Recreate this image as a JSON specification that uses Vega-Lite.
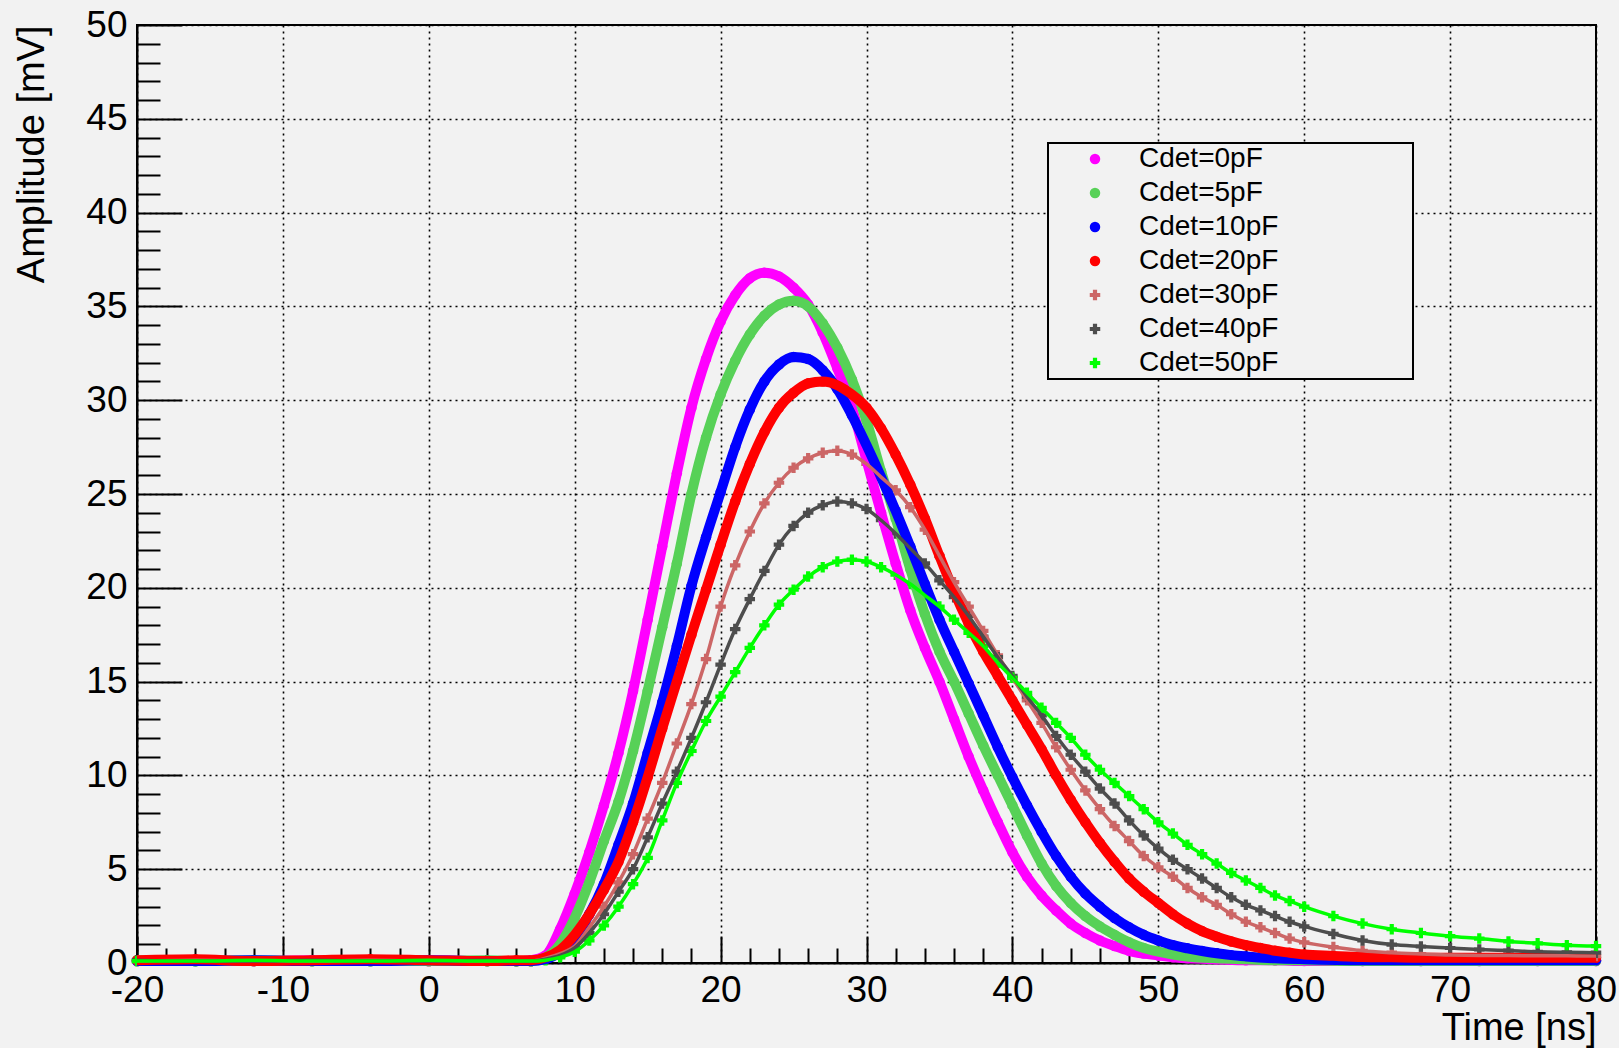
{
  "$schema": "https://vega.github.io/schema/vega-lite/v6.json",
  "width": 1459,
  "height": 938,
  "autosize": {"type": "none"},
  "padding": {"left": 137, "top": 25, "right": 23, "bottom": 85},
  "background": "#f2f2f2",
  "config": {
    "view": {"stroke": "black", "strokeWidth": 2},
    "legend": {"strokeWidth": 2}
  },
  "data": {"values": [
    {"s":"Cdet=0pF","t":-20,"a":0.1},{"s":"Cdet=0pF","t":-16,"a":0.15},{"s":"Cdet=0pF","t":-12,"a":0.1},{"s":"Cdet=0pF","t":-8,"a":0.15},{"s":"Cdet=0pF","t":-4,"a":0.1},{"s":"Cdet=0pF","t":0,"a":0.15},{"s":"Cdet=0pF","t":4,"a":0.1},{"s":"Cdet=0pF","t":6,"a":0.1},
    {"s":"Cdet=0pF","t":7,"a":0.15},{"s":"Cdet=0pF","t":8,"a":0.4},{"s":"Cdet=0pF","t":9,"a":1.8},{"s":"Cdet=0pF","t":10,"a":3.7},{"s":"Cdet=0pF","t":11,"a":5.9},{"s":"Cdet=0pF","t":12,"a":8.4},{"s":"Cdet=0pF","t":13,"a":11.2},{"s":"Cdet=0pF","t":14,"a":14.5},{"s":"Cdet=0pF","t":15,"a":18.3},{"s":"Cdet=0pF","t":16,"a":22.2},{"s":"Cdet=0pF","t":17,"a":26.1},{"s":"Cdet=0pF","t":18,"a":29.6},{"s":"Cdet=0pF","t":19,"a":32.2},{"s":"Cdet=0pF","t":20,"a":34.2},{"s":"Cdet=0pF","t":21,"a":35.6},{"s":"Cdet=0pF","t":22,"a":36.5},{"s":"Cdet=0pF","t":23,"a":36.8},{"s":"Cdet=0pF","t":24,"a":36.6},{"s":"Cdet=0pF","t":25,"a":36.0},{"s":"Cdet=0pF","t":26,"a":35.1},{"s":"Cdet=0pF","t":27,"a":33.6},{"s":"Cdet=0pF","t":28,"a":31.7},{"s":"Cdet=0pF","t":29,"a":29.6},{"s":"Cdet=0pF","t":30,"a":26.8},{"s":"Cdet=0pF","t":31,"a":24.0},{"s":"Cdet=0pF","t":32,"a":21.3},{"s":"Cdet=0pF","t":33,"a":18.8},{"s":"Cdet=0pF","t":34,"a":16.8},{"s":"Cdet=0pF","t":35,"a":15.0},{"s":"Cdet=0pF","t":36,"a":13.0},{"s":"Cdet=0pF","t":37,"a":11.0},{"s":"Cdet=0pF","t":38,"a":9.2},{"s":"Cdet=0pF","t":39,"a":7.5},{"s":"Cdet=0pF","t":40,"a":5.9},{"s":"Cdet=0pF","t":41,"a":4.6},{"s":"Cdet=0pF","t":42,"a":3.6},{"s":"Cdet=0pF","t":43,"a":2.8},{"s":"Cdet=0pF","t":44,"a":2.1},{"s":"Cdet=0pF","t":45,"a":1.6},{"s":"Cdet=0pF","t":46,"a":1.2},{"s":"Cdet=0pF","t":47,"a":0.9},{"s":"Cdet=0pF","t":48,"a":0.65},{"s":"Cdet=0pF","t":49,"a":0.5},{"s":"Cdet=0pF","t":50,"a":0.4},{"s":"Cdet=0pF","t":51,"a":0.3},{"s":"Cdet=0pF","t":52,"a":0.25},{"s":"Cdet=0pF","t":54,"a":0.2},{"s":"Cdet=0pF","t":56,"a":0.15},{"s":"Cdet=0pF","t":58,"a":0.15},{"s":"Cdet=0pF","t":60,"a":0.1},{"s":"Cdet=0pF","t":64,"a":0.1},{"s":"Cdet=0pF","t":68,"a":0.1},{"s":"Cdet=0pF","t":72,"a":0.1},{"s":"Cdet=0pF","t":76,"a":0.1},{"s":"Cdet=0pF","t":80,"a":0.1},

    {"s":"Cdet=5pF","t":-20,"a":0.15},{"s":"Cdet=5pF","t":-16,"a":0.1},{"s":"Cdet=5pF","t":-12,"a":0.15},{"s":"Cdet=5pF","t":-8,"a":0.1},{"s":"Cdet=5pF","t":-4,"a":0.15},{"s":"Cdet=5pF","t":0,"a":0.1},{"s":"Cdet=5pF","t":4,"a":0.15},{"s":"Cdet=5pF","t":6,"a":0.1},
    {"s":"Cdet=5pF","t":7,"a":0.1},{"s":"Cdet=5pF","t":8,"a":0.3},{"s":"Cdet=5pF","t":9,"a":1.0},{"s":"Cdet=5pF","t":10,"a":2.4},{"s":"Cdet=5pF","t":11,"a":4.3},{"s":"Cdet=5pF","t":12,"a":6.5},{"s":"Cdet=5pF","t":13,"a":8.6},{"s":"Cdet=5pF","t":14,"a":11.3},{"s":"Cdet=5pF","t":15,"a":14.5},{"s":"Cdet=5pF","t":16,"a":17.9},{"s":"Cdet=5pF","t":17,"a":21.3},{"s":"Cdet=5pF","t":18,"a":25.0},{"s":"Cdet=5pF","t":19,"a":28.0},{"s":"Cdet=5pF","t":20,"a":30.3},{"s":"Cdet=5pF","t":21,"a":32.1},{"s":"Cdet=5pF","t":22,"a":33.5},{"s":"Cdet=5pF","t":23,"a":34.5},{"s":"Cdet=5pF","t":24,"a":35.1},{"s":"Cdet=5pF","t":25,"a":35.3},{"s":"Cdet=5pF","t":26,"a":35.0},{"s":"Cdet=5pF","t":27,"a":34.1},{"s":"Cdet=5pF","t":28,"a":32.8},{"s":"Cdet=5pF","t":29,"a":31.1},{"s":"Cdet=5pF","t":30,"a":28.9},{"s":"Cdet=5pF","t":31,"a":26.2},{"s":"Cdet=5pF","t":32,"a":23.7},{"s":"Cdet=5pF","t":33,"a":21.0},{"s":"Cdet=5pF","t":34,"a":18.6},{"s":"Cdet=5pF","t":35,"a":16.6},{"s":"Cdet=5pF","t":36,"a":15.0},{"s":"Cdet=5pF","t":37,"a":13.3},{"s":"Cdet=5pF","t":38,"a":11.6},{"s":"Cdet=5pF","t":39,"a":10.0},{"s":"Cdet=5pF","t":40,"a":8.4},{"s":"Cdet=5pF","t":41,"a":6.8},{"s":"Cdet=5pF","t":42,"a":5.3},{"s":"Cdet=5pF","t":43,"a":4.1},{"s":"Cdet=5pF","t":44,"a":3.2},{"s":"Cdet=5pF","t":45,"a":2.5},{"s":"Cdet=5pF","t":46,"a":1.95},{"s":"Cdet=5pF","t":47,"a":1.5},{"s":"Cdet=5pF","t":48,"a":1.1},{"s":"Cdet=5pF","t":49,"a":0.8},{"s":"Cdet=5pF","t":50,"a":0.6},{"s":"Cdet=5pF","t":51,"a":0.45},{"s":"Cdet=5pF","t":52,"a":0.35},{"s":"Cdet=5pF","t":54,"a":0.25},{"s":"Cdet=5pF","t":56,"a":0.2},{"s":"Cdet=5pF","t":58,"a":0.15},{"s":"Cdet=5pF","t":60,"a":0.15},{"s":"Cdet=5pF","t":64,"a":0.1},{"s":"Cdet=5pF","t":68,"a":0.1},{"s":"Cdet=5pF","t":72,"a":0.1},{"s":"Cdet=5pF","t":76,"a":0.1},{"s":"Cdet=5pF","t":80,"a":0.1},

    {"s":"Cdet=10pF","t":-20,"a":0.1},{"s":"Cdet=10pF","t":-16,"a":0.1},{"s":"Cdet=10pF","t":-12,"a":0.15},{"s":"Cdet=10pF","t":-8,"a":0.1},{"s":"Cdet=10pF","t":-4,"a":0.1},{"s":"Cdet=10pF","t":0,"a":0.15},{"s":"Cdet=10pF","t":4,"a":0.1},{"s":"Cdet=10pF","t":6,"a":0.1},
    {"s":"Cdet=10pF","t":7,"a":0.1},{"s":"Cdet=10pF","t":8,"a":0.2},{"s":"Cdet=10pF","t":9,"a":0.6},{"s":"Cdet=10pF","t":10,"a":1.4},{"s":"Cdet=10pF","t":11,"a":2.6},{"s":"Cdet=10pF","t":12,"a":4.2},{"s":"Cdet=10pF","t":13,"a":6.3},{"s":"Cdet=10pF","t":14,"a":8.5},{"s":"Cdet=10pF","t":15,"a":11.2},{"s":"Cdet=10pF","t":16,"a":13.9},{"s":"Cdet=10pF","t":17,"a":16.9},{"s":"Cdet=10pF","t":18,"a":20.1},{"s":"Cdet=10pF","t":19,"a":22.7},{"s":"Cdet=10pF","t":20,"a":25.1},{"s":"Cdet=10pF","t":21,"a":27.5},{"s":"Cdet=10pF","t":22,"a":29.5},{"s":"Cdet=10pF","t":23,"a":31.0},{"s":"Cdet=10pF","t":24,"a":31.9},{"s":"Cdet=10pF","t":25,"a":32.3},{"s":"Cdet=10pF","t":26,"a":32.2},{"s":"Cdet=10pF","t":27,"a":31.6},{"s":"Cdet=10pF","t":28,"a":30.6},{"s":"Cdet=10pF","t":29,"a":29.2},{"s":"Cdet=10pF","t":30,"a":27.6},{"s":"Cdet=10pF","t":31,"a":25.9},{"s":"Cdet=10pF","t":32,"a":24.1},{"s":"Cdet=10pF","t":33,"a":22.2},{"s":"Cdet=10pF","t":34,"a":20.2},{"s":"Cdet=10pF","t":35,"a":18.3},{"s":"Cdet=10pF","t":36,"a":16.6},{"s":"Cdet=10pF","t":37,"a":14.9},{"s":"Cdet=10pF","t":38,"a":13.2},{"s":"Cdet=10pF","t":39,"a":11.5},{"s":"Cdet=10pF","t":40,"a":9.9},{"s":"Cdet=10pF","t":41,"a":8.4},{"s":"Cdet=10pF","t":42,"a":7.0},{"s":"Cdet=10pF","t":43,"a":5.7},{"s":"Cdet=10pF","t":44,"a":4.6},{"s":"Cdet=10pF","t":45,"a":3.7},{"s":"Cdet=10pF","t":46,"a":3.0},{"s":"Cdet=10pF","t":47,"a":2.4},{"s":"Cdet=10pF","t":48,"a":1.9},{"s":"Cdet=10pF","t":49,"a":1.5},{"s":"Cdet=10pF","t":50,"a":1.2},{"s":"Cdet=10pF","t":51,"a":0.95},{"s":"Cdet=10pF","t":52,"a":0.78},{"s":"Cdet=10pF","t":53,"a":0.64},{"s":"Cdet=10pF","t":54,"a":0.52},{"s":"Cdet=10pF","t":55,"a":0.42},{"s":"Cdet=10pF","t":56,"a":0.35},{"s":"Cdet=10pF","t":58,"a":0.25},{"s":"Cdet=10pF","t":60,"a":0.2},{"s":"Cdet=10pF","t":64,"a":0.15},{"s":"Cdet=10pF","t":68,"a":0.15},{"s":"Cdet=10pF","t":72,"a":0.15},{"s":"Cdet=10pF","t":76,"a":0.15},{"s":"Cdet=10pF","t":80,"a":0.15},

    {"s":"Cdet=20pF","t":-20,"a":0.15},{"s":"Cdet=20pF","t":-16,"a":0.2},{"s":"Cdet=20pF","t":-12,"a":0.1},{"s":"Cdet=20pF","t":-8,"a":0.15},{"s":"Cdet=20pF","t":-4,"a":0.2},{"s":"Cdet=20pF","t":0,"a":0.15},{"s":"Cdet=20pF","t":4,"a":0.1},{"s":"Cdet=20pF","t":6,"a":0.15},
    {"s":"Cdet=20pF","t":7,"a":0.15},{"s":"Cdet=20pF","t":8,"a":0.3},{"s":"Cdet=20pF","t":9,"a":0.7},{"s":"Cdet=20pF","t":10,"a":1.5},{"s":"Cdet=20pF","t":11,"a":2.6},{"s":"Cdet=20pF","t":12,"a":3.9},{"s":"Cdet=20pF","t":13,"a":5.4},{"s":"Cdet=20pF","t":14,"a":7.5},{"s":"Cdet=20pF","t":15,"a":9.9},{"s":"Cdet=20pF","t":16,"a":12.5},{"s":"Cdet=20pF","t":17,"a":15.0},{"s":"Cdet=20pF","t":18,"a":17.5},{"s":"Cdet=20pF","t":19,"a":19.9},{"s":"Cdet=20pF","t":20,"a":22.3},{"s":"Cdet=20pF","t":21,"a":24.6},{"s":"Cdet=20pF","t":22,"a":26.6},{"s":"Cdet=20pF","t":23,"a":28.3},{"s":"Cdet=20pF","t":24,"a":29.6},{"s":"Cdet=20pF","t":25,"a":30.4},{"s":"Cdet=20pF","t":26,"a":30.9},{"s":"Cdet=20pF","t":27,"a":31.0},{"s":"Cdet=20pF","t":28,"a":30.8},{"s":"Cdet=20pF","t":29,"a":30.3},{"s":"Cdet=20pF","t":30,"a":29.6},{"s":"Cdet=20pF","t":31,"a":28.5},{"s":"Cdet=20pF","t":32,"a":27.1},{"s":"Cdet=20pF","t":33,"a":25.5},{"s":"Cdet=20pF","t":34,"a":23.7},{"s":"Cdet=20pF","t":35,"a":21.7},{"s":"Cdet=20pF","t":36,"a":19.8},{"s":"Cdet=20pF","t":37,"a":18.1},{"s":"Cdet=20pF","t":38,"a":16.6},{"s":"Cdet=20pF","t":39,"a":15.3},{"s":"Cdet=20pF","t":40,"a":14.0},{"s":"Cdet=20pF","t":41,"a":12.7},{"s":"Cdet=20pF","t":42,"a":11.4},{"s":"Cdet=20pF","t":43,"a":10.0},{"s":"Cdet=20pF","t":44,"a":8.7},{"s":"Cdet=20pF","t":45,"a":7.5},{"s":"Cdet=20pF","t":46,"a":6.4},{"s":"Cdet=20pF","t":47,"a":5.4},{"s":"Cdet=20pF","t":48,"a":4.5},{"s":"Cdet=20pF","t":49,"a":3.8},{"s":"Cdet=20pF","t":50,"a":3.2},{"s":"Cdet=20pF","t":51,"a":2.6},{"s":"Cdet=20pF","t":52,"a":2.1},{"s":"Cdet=20pF","t":53,"a":1.7},{"s":"Cdet=20pF","t":54,"a":1.4},{"s":"Cdet=20pF","t":55,"a":1.15},{"s":"Cdet=20pF","t":56,"a":0.95},{"s":"Cdet=20pF","t":57,"a":0.8},{"s":"Cdet=20pF","t":58,"a":0.65},{"s":"Cdet=20pF","t":59,"a":0.55},{"s":"Cdet=20pF","t":60,"a":0.45},{"s":"Cdet=20pF","t":62,"a":0.38},{"s":"Cdet=20pF","t":64,"a":0.32},{"s":"Cdet=20pF","t":66,"a":0.3},{"s":"Cdet=20pF","t":68,"a":0.28},{"s":"Cdet=20pF","t":72,"a":0.28},{"s":"Cdet=20pF","t":76,"a":0.28},{"s":"Cdet=20pF","t":80,"a":0.28},

    {"s":"Cdet=30pF","t":-20,"a":0.1},{"s":"Cdet=30pF","t":-16,"a":0.15},{"s":"Cdet=30pF","t":-12,"a":0.1},{"s":"Cdet=30pF","t":-8,"a":0.1},{"s":"Cdet=30pF","t":-4,"a":0.15},{"s":"Cdet=30pF","t":0,"a":0.1},{"s":"Cdet=30pF","t":4,"a":0.1},{"s":"Cdet=30pF","t":6,"a":0.1},
    {"s":"Cdet=30pF","t":7,"a":0.1},{"s":"Cdet=30pF","t":8,"a":0.25},{"s":"Cdet=30pF","t":9,"a":0.5},{"s":"Cdet=30pF","t":10,"a":0.9},{"s":"Cdet=30pF","t":11,"a":1.9},{"s":"Cdet=30pF","t":12,"a":3.0},{"s":"Cdet=30pF","t":13,"a":4.3},{"s":"Cdet=30pF","t":14,"a":5.8},{"s":"Cdet=30pF","t":15,"a":7.7},{"s":"Cdet=30pF","t":16,"a":9.6},{"s":"Cdet=30pF","t":17,"a":11.7},{"s":"Cdet=30pF","t":18,"a":13.8},{"s":"Cdet=30pF","t":19,"a":16.2},{"s":"Cdet=30pF","t":20,"a":19.0},{"s":"Cdet=30pF","t":21,"a":21.2},{"s":"Cdet=30pF","t":22,"a":23.0},{"s":"Cdet=30pF","t":23,"a":24.5},{"s":"Cdet=30pF","t":24,"a":25.6},{"s":"Cdet=30pF","t":25,"a":26.4},{"s":"Cdet=30pF","t":26,"a":26.9},{"s":"Cdet=30pF","t":27,"a":27.2},{"s":"Cdet=30pF","t":28,"a":27.3},{"s":"Cdet=30pF","t":29,"a":27.1},{"s":"Cdet=30pF","t":30,"a":26.6},{"s":"Cdet=30pF","t":31,"a":25.9},{"s":"Cdet=30pF","t":32,"a":25.2},{"s":"Cdet=30pF","t":33,"a":24.3},{"s":"Cdet=30pF","t":34,"a":23.1},{"s":"Cdet=30pF","t":35,"a":21.7},{"s":"Cdet=30pF","t":36,"a":20.3},{"s":"Cdet=30pF","t":37,"a":19.0},{"s":"Cdet=30pF","t":38,"a":17.7},{"s":"Cdet=30pF","t":39,"a":16.4},{"s":"Cdet=30pF","t":40,"a":15.2},{"s":"Cdet=30pF","t":41,"a":14.0},{"s":"Cdet=30pF","t":42,"a":12.8},{"s":"Cdet=30pF","t":43,"a":11.5},{"s":"Cdet=30pF","t":44,"a":10.3},{"s":"Cdet=30pF","t":45,"a":9.2},{"s":"Cdet=30pF","t":46,"a":8.2},{"s":"Cdet=30pF","t":47,"a":7.3},{"s":"Cdet=30pF","t":48,"a":6.5},{"s":"Cdet=30pF","t":49,"a":5.7},{"s":"Cdet=30pF","t":50,"a":5.1},{"s":"Cdet=30pF","t":51,"a":4.6},{"s":"Cdet=30pF","t":52,"a":4.0},{"s":"Cdet=30pF","t":53,"a":3.5},{"s":"Cdet=30pF","t":54,"a":3.1},{"s":"Cdet=30pF","t":55,"a":2.6},{"s":"Cdet=30pF","t":56,"a":2.2},{"s":"Cdet=30pF","t":57,"a":1.9},{"s":"Cdet=30pF","t":58,"a":1.6},{"s":"Cdet=30pF","t":59,"a":1.3},{"s":"Cdet=30pF","t":60,"a":1.1},{"s":"Cdet=30pF","t":62,"a":0.85},{"s":"Cdet=30pF","t":64,"a":0.65},{"s":"Cdet=30pF","t":66,"a":0.55},{"s":"Cdet=30pF","t":68,"a":0.48},{"s":"Cdet=30pF","t":70,"a":0.42},{"s":"Cdet=30pF","t":72,"a":0.4},{"s":"Cdet=30pF","t":74,"a":0.4},{"s":"Cdet=30pF","t":76,"a":0.38},{"s":"Cdet=30pF","t":78,"a":0.38},{"s":"Cdet=30pF","t":80,"a":0.37},

    {"s":"Cdet=40pF","t":-20,"a":0.15},{"s":"Cdet=40pF","t":-16,"a":0.1},{"s":"Cdet=40pF","t":-12,"a":0.1},{"s":"Cdet=40pF","t":-8,"a":0.15},{"s":"Cdet=40pF","t":-4,"a":0.1},{"s":"Cdet=40pF","t":0,"a":0.1},{"s":"Cdet=40pF","t":4,"a":0.15},{"s":"Cdet=40pF","t":6,"a":0.1},
    {"s":"Cdet=40pF","t":7,"a":0.1},{"s":"Cdet=40pF","t":8,"a":0.2},{"s":"Cdet=40pF","t":9,"a":0.4},{"s":"Cdet=40pF","t":10,"a":0.8},{"s":"Cdet=40pF","t":11,"a":1.6},{"s":"Cdet=40pF","t":12,"a":2.6},{"s":"Cdet=40pF","t":13,"a":3.8},{"s":"Cdet=40pF","t":14,"a":5.0},{"s":"Cdet=40pF","t":15,"a":6.7},{"s":"Cdet=40pF","t":16,"a":8.5},{"s":"Cdet=40pF","t":17,"a":10.2},{"s":"Cdet=40pF","t":18,"a":12.0},{"s":"Cdet=40pF","t":19,"a":13.9},{"s":"Cdet=40pF","t":20,"a":15.9},{"s":"Cdet=40pF","t":21,"a":17.8},{"s":"Cdet=40pF","t":22,"a":19.4},{"s":"Cdet=40pF","t":23,"a":20.9},{"s":"Cdet=40pF","t":24,"a":22.3},{"s":"Cdet=40pF","t":25,"a":23.3},{"s":"Cdet=40pF","t":26,"a":24.0},{"s":"Cdet=40pF","t":27,"a":24.4},{"s":"Cdet=40pF","t":28,"a":24.6},{"s":"Cdet=40pF","t":29,"a":24.5},{"s":"Cdet=40pF","t":30,"a":24.2},{"s":"Cdet=40pF","t":31,"a":23.6},{"s":"Cdet=40pF","t":32,"a":22.9},{"s":"Cdet=40pF","t":33,"a":22.1},{"s":"Cdet=40pF","t":34,"a":21.3},{"s":"Cdet=40pF","t":35,"a":20.4},{"s":"Cdet=40pF","t":36,"a":19.5},{"s":"Cdet=40pF","t":37,"a":18.5},{"s":"Cdet=40pF","t":38,"a":17.4},{"s":"Cdet=40pF","t":39,"a":16.3},{"s":"Cdet=40pF","t":40,"a":15.3},{"s":"Cdet=40pF","t":41,"a":14.2},{"s":"Cdet=40pF","t":42,"a":13.2},{"s":"Cdet=40pF","t":43,"a":12.1},{"s":"Cdet=40pF","t":44,"a":11.1},{"s":"Cdet=40pF","t":45,"a":10.2},{"s":"Cdet=40pF","t":46,"a":9.3},{"s":"Cdet=40pF","t":47,"a":8.5},{"s":"Cdet=40pF","t":48,"a":7.6},{"s":"Cdet=40pF","t":49,"a":6.8},{"s":"Cdet=40pF","t":50,"a":6.1},{"s":"Cdet=40pF","t":51,"a":5.5},{"s":"Cdet=40pF","t":52,"a":5.0},{"s":"Cdet=40pF","t":53,"a":4.5},{"s":"Cdet=40pF","t":54,"a":4.0},{"s":"Cdet=40pF","t":55,"a":3.5},{"s":"Cdet=40pF","t":56,"a":3.1},{"s":"Cdet=40pF","t":57,"a":2.8},{"s":"Cdet=40pF","t":58,"a":2.5},{"s":"Cdet=40pF","t":59,"a":2.2},{"s":"Cdet=40pF","t":60,"a":1.95},{"s":"Cdet=40pF","t":62,"a":1.55},{"s":"Cdet=40pF","t":64,"a":1.2},{"s":"Cdet=40pF","t":66,"a":0.98},{"s":"Cdet=40pF","t":68,"a":0.88},{"s":"Cdet=40pF","t":70,"a":0.8},{"s":"Cdet=40pF","t":72,"a":0.72},{"s":"Cdet=40pF","t":74,"a":0.66},{"s":"Cdet=40pF","t":76,"a":0.6},{"s":"Cdet=40pF","t":78,"a":0.57},{"s":"Cdet=40pF","t":80,"a":0.55},

    {"s":"Cdet=50pF","t":-20,"a":0.1},{"s":"Cdet=50pF","t":-16,"a":0.1},{"s":"Cdet=50pF","t":-12,"a":0.15},{"s":"Cdet=50pF","t":-8,"a":0.1},{"s":"Cdet=50pF","t":-4,"a":0.1},{"s":"Cdet=50pF","t":0,"a":0.15},{"s":"Cdet=50pF","t":4,"a":0.1},{"s":"Cdet=50pF","t":6,"a":0.1},
    {"s":"Cdet=50pF","t":7,"a":0.1},{"s":"Cdet=50pF","t":8,"a":0.15},{"s":"Cdet=50pF","t":9,"a":0.3},{"s":"Cdet=50pF","t":10,"a":0.6},{"s":"Cdet=50pF","t":11,"a":1.2},{"s":"Cdet=50pF","t":12,"a":2.0},{"s":"Cdet=50pF","t":13,"a":3.0},{"s":"Cdet=50pF","t":14,"a":4.2},{"s":"Cdet=50pF","t":15,"a":5.6},{"s":"Cdet=50pF","t":16,"a":7.6},{"s":"Cdet=50pF","t":17,"a":9.6},{"s":"Cdet=50pF","t":18,"a":11.3},{"s":"Cdet=50pF","t":19,"a":12.9},{"s":"Cdet=50pF","t":20,"a":14.2},{"s":"Cdet=50pF","t":21,"a":15.5},{"s":"Cdet=50pF","t":22,"a":16.8},{"s":"Cdet=50pF","t":23,"a":18.0},{"s":"Cdet=50pF","t":24,"a":19.1},{"s":"Cdet=50pF","t":25,"a":19.9},{"s":"Cdet=50pF","t":26,"a":20.6},{"s":"Cdet=50pF","t":27,"a":21.1},{"s":"Cdet=50pF","t":28,"a":21.4},{"s":"Cdet=50pF","t":29,"a":21.5},{"s":"Cdet=50pF","t":30,"a":21.4},{"s":"Cdet=50pF","t":31,"a":21.1},{"s":"Cdet=50pF","t":32,"a":20.7},{"s":"Cdet=50pF","t":33,"a":20.2},{"s":"Cdet=50pF","t":34,"a":19.6},{"s":"Cdet=50pF","t":35,"a":19.0},{"s":"Cdet=50pF","t":36,"a":18.3},{"s":"Cdet=50pF","t":37,"a":17.6},{"s":"Cdet=50pF","t":38,"a":16.9},{"s":"Cdet=50pF","t":39,"a":16.0},{"s":"Cdet=50pF","t":40,"a":15.2},{"s":"Cdet=50pF","t":41,"a":14.4},{"s":"Cdet=50pF","t":42,"a":13.6},{"s":"Cdet=50pF","t":43,"a":12.8},{"s":"Cdet=50pF","t":44,"a":12.0},{"s":"Cdet=50pF","t":45,"a":11.1},{"s":"Cdet=50pF","t":46,"a":10.3},{"s":"Cdet=50pF","t":47,"a":9.6},{"s":"Cdet=50pF","t":48,"a":8.9},{"s":"Cdet=50pF","t":49,"a":8.2},{"s":"Cdet=50pF","t":50,"a":7.5},{"s":"Cdet=50pF","t":51,"a":6.9},{"s":"Cdet=50pF","t":52,"a":6.3},{"s":"Cdet=50pF","t":53,"a":5.8},{"s":"Cdet=50pF","t":54,"a":5.3},{"s":"Cdet=50pF","t":55,"a":4.8},{"s":"Cdet=50pF","t":56,"a":4.4},{"s":"Cdet=50pF","t":57,"a":4.0},{"s":"Cdet=50pF","t":58,"a":3.6},{"s":"Cdet=50pF","t":59,"a":3.3},{"s":"Cdet=50pF","t":60,"a":3.0},{"s":"Cdet=50pF","t":62,"a":2.5},{"s":"Cdet=50pF","t":64,"a":2.1},{"s":"Cdet=50pF","t":66,"a":1.8},{"s":"Cdet=50pF","t":68,"a":1.6},{"s":"Cdet=50pF","t":70,"a":1.43},{"s":"Cdet=50pF","t":72,"a":1.3},{"s":"Cdet=50pF","t":74,"a":1.15},{"s":"Cdet=50pF","t":76,"a":1.05},{"s":"Cdet=50pF","t":78,"a":0.95},{"s":"Cdet=50pF","t":80,"a":0.9}
  ]},
  "encoding": {
    "x": {
      "field": "t", "type": "quantitative",
      "scale": {"domain": [-20, 80], "nice": false, "zero": false},
      "axis": {
        "values": [-20,-18,-16,-14,-12,-10,-8,-6,-4,-2,0,2,4,6,8,10,12,14,16,18,20,22,24,26,28,30,32,34,36,38,40,42,44,46,48,50,52,54,56,58,60,62,64,66,68,70,72,74,76,78,80],
        "tickSize": {"condition": {"test": "datum.value % 10 === 0", "value": -27}, "value": -15},
        "tickColor": "black", "tickWidth": 2,
        "grid": true, "gridColor": "black", "gridDash": [2, 4], "gridWidth": 1.6,
        "gridOpacity": {"condition": {"test": "datum.value % 10 === 0", "value": 1}, "value": 0},
        "labelExpr": "datum.value % 10 === 0 ? '' + datum.value : ''",
        "labelFont": "Liberation Sans", "labelFontSize": 37, "labelColor": "black",
        "labelPadding": 36, "labelFlush": false, "labelOverlap": false, "labelBound": false,
        "domainColor": "black", "domainWidth": 2,
        "title": "Time [ns]", "titleAnchor": "end", "titleFont": "Liberation Sans", "titleFontSize": 38,
        "titleFontWeight": "normal", "titleColor": "black", "titleY": 76, "titleBaseline": "alphabetic"
      }
    },
    "y": {
      "field": "a", "type": "quantitative",
      "scale": {"domain": [0, 50], "nice": false},
      "axis": {
        "values": [0,1,2,3,4,5,6,7,8,9,10,11,12,13,14,15,16,17,18,19,20,21,22,23,24,25,26,27,28,29,30,31,32,33,34,35,36,37,38,39,40,41,42,43,44,45,46,47,48,49,50],
        "tickSize": {"condition": {"test": "datum.value % 5 === 0", "value": -45}, "value": -23},
        "tickColor": "black", "tickWidth": 2,
        "grid": true, "gridColor": "black", "gridDash": [2, 4], "gridWidth": 1.6,
        "gridOpacity": {"condition": {"test": "datum.value % 5 === 0", "value": 1}, "value": 0},
        "labelExpr": "datum.value % 5 === 0 ? '' + datum.value : ''",
        "labelFont": "Liberation Sans", "labelFontSize": 37, "labelColor": "black",
        "labelPadding": 55, "labelFlush": false, "labelOverlap": false, "labelBound": false,
        "domainColor": "black", "domainWidth": 2,
        "title": "Amplitude [mV]", "titleAnchor": "end", "titleFont": "Liberation Sans", "titleFontSize": 38,
        "titleFontWeight": "normal", "titleColor": "black", "titleX": -94, "titleBaseline": "alphabetic"
      }
    },
    "color": {
      "field": "s", "type": "nominal",
      "scale": {
        "domain": ["Cdet=0pF","Cdet=5pF","Cdet=10pF","Cdet=20pF","Cdet=30pF","Cdet=40pF","Cdet=50pF"],
        "range": ["#ff00ff","#57d157","#0000ff","#ff0000","#cc6666","#4d4d4d","#00ff00"]
      },
      "legend": null
    }
  },
  "layer": [
    {
      "mark": {"type": "point", "filled": true, "opacity": 1},
      "encoding": {
        "color": {
          "field": "s", "type": "nominal",
          "legend": {
            "orient": "none", "legendX": 911, "legendY": 118, "title": null,
            "fillColor": "#f2f2f2", "strokeColor": "black",
            "padding": 2, "rowPadding": 6,
            "labelFont": "Liberation Sans", "labelFontSize": 28, "labelColor": "black", "labelLimit": 2000,
            "symbolOffset": 31, "labelOffset": 30, "symbolStrokeWidth": 0,
            "labelExpr": "datum.label + '\u00a0\u00a0\u00a0\u00a0\u00a0\u00a0\u00a0\u00a0\u00a0\u00a0\u00a0\u00a0\u00a0\u00a0\u00a0\u00a0\u00a0\u200b'"
          }
        },
        "shape": {
          "field": "s", "type": "nominal",
          "scale": {
            "domain": ["Cdet=0pF","Cdet=5pF","Cdet=10pF","Cdet=20pF","Cdet=30pF","Cdet=40pF","Cdet=50pF"],
            "range": ["circle","circle","circle","circle","cross","cross","cross"]
          }
        },
        "size": {
          "field": "s", "type": "ordinal",
          "scale": {
            "domain": ["Cdet=0pF","Cdet=5pF","Cdet=10pF","Cdet=20pF","Cdet=30pF","Cdet=40pF","Cdet=50pF"],
            "range": [110,110,110,110,36,36,36]
          }
        }
      }
    },
    {
      "transform": [{"filter": {"field": "s", "oneOf": ["Cdet=0pF","Cdet=5pF","Cdet=10pF","Cdet=20pF"]}}],
      "mark": {"type": "line", "interpolate": "monotone", "strokeWidth": 10}
    },
    {
      "transform": [{"filter": {"field": "s", "oneOf": ["Cdet=30pF","Cdet=40pF","Cdet=50pF"]}}],
      "mark": {"type": "line", "interpolate": "monotone", "strokeWidth": 3.5}
    }
  ]
}
